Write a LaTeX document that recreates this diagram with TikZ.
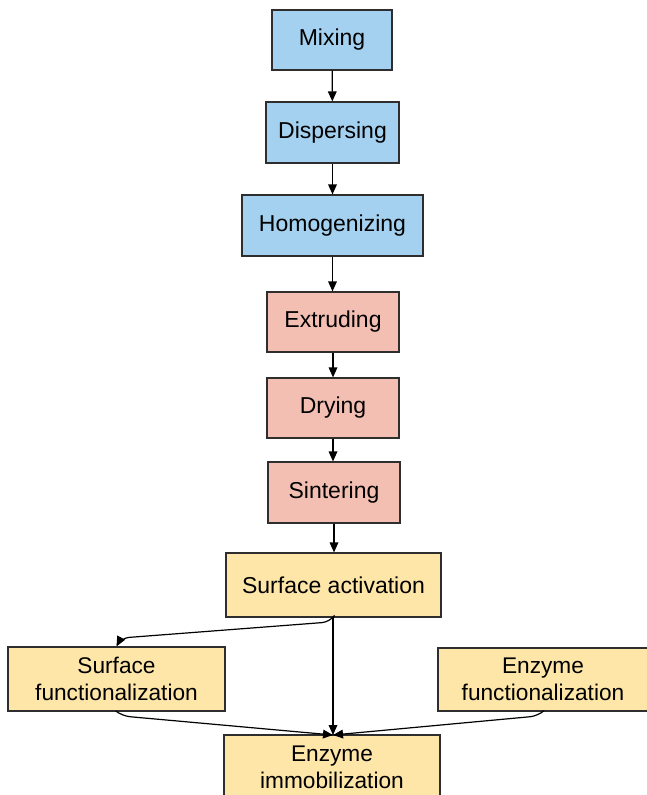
\documentclass[tikz,border=0pt]{standalone}
\usepackage{fontspec}
\setmainfont{Liberation Sans}
\usetikzlibrary{arrows.meta}
\definecolor{bluefill}{HTML}{A4D1EF}
\definecolor{pinkfill}{HTML}{F4BFB3}
\definecolor{yellowfill}{HTML}{FDE6A7}
\definecolor{edge}{HTML}{2E2E2E}
\tikzset{
  box/.style={draw=edge, line width=0.9pt, inner sep=0pt, align=center,
    font=\fontsize{17.25}{20}\selectfont},
  twoline/.style={box, font=\fontsize{17}{20.5}\selectfont},
  bluebox/.style={box, fill=bluefill},
  pinkbox/.style={box, fill=pinkfill},
  yelbox/.style={box, fill=yellowfill},
  yeltwo/.style={twoline, fill=yellowfill},
  conn/.style={draw=black, line width=0.9pt, -{Triangle[length=7.5pt,width=6.5pt]}},
}
\begin{document}
\begin{tikzpicture}[x=0.75pt, y=-0.75pt]
\useasboundingbox (0,0) rectangle (646,795);
\node[bluebox, minimum width=90pt, minimum height=45pt] (mix) at (332,40) {Mixing};
\node[bluebox, minimum width=99.75pt, minimum height=45.75pt] (disp) at (332.5,132.5) {Dispersing};
\node[bluebox, minimum width=135.75pt, minimum height=45.75pt] (homo) at (332.5,225.5) {Homogenizing};
\node[pinkbox, minimum width=99pt, minimum height=45pt] (extr) at (333,322) {Extruding};
\node[pinkbox, minimum width=99pt, minimum height=45pt] (dry) at (333,408) {Drying};
\node[pinkbox, minimum width=99pt, minimum height=45.75pt] (sint) at (334,492.5) {Sintering};
\node[yelbox, minimum width=161.25pt, minimum height=48pt] (sa) at (333.5,585) {Surface activation};
\node[yeltwo, minimum width=162.75pt, minimum height=48pt] (sf) at (116.5,679) {Surface\\functionalization};
\node[yeltwo, minimum width=157.5pt, minimum height=47.25pt] (ef) at (543,679.5) {Enzyme\\functionalization};
\node[yeltwo, minimum width=162pt, minimum height=48pt] (ei) at (332,767) {Enzyme\\immobilization};
\coordinate (eitop) at (333,735);
\draw[conn] (mix) -- (disp);
\draw[conn] (disp) -- (homo);
\draw[conn] (homo.south) -- (homo.south |- extr.north);
\draw[conn] (extr) -- (dry);
\draw[conn] (dry.south) -- (dry.south |- sint.north);
\draw[conn] (sint.south) -- (sint.south |- sa.north);
\draw[conn] (sa.south -| eitop) -- (eitop);
\draw[conn, rounded corners=6pt] (sa.south -| eitop) -- (330,622) -- (121,638) -- (sf.north);
\draw[conn, rounded corners=6pt] (sf.south) -- (122,716) -- (eitop);
\draw[conn, rounded corners=6pt] (ef.south) -- (538,716) -- (eitop);
\end{tikzpicture}
\end{document}
